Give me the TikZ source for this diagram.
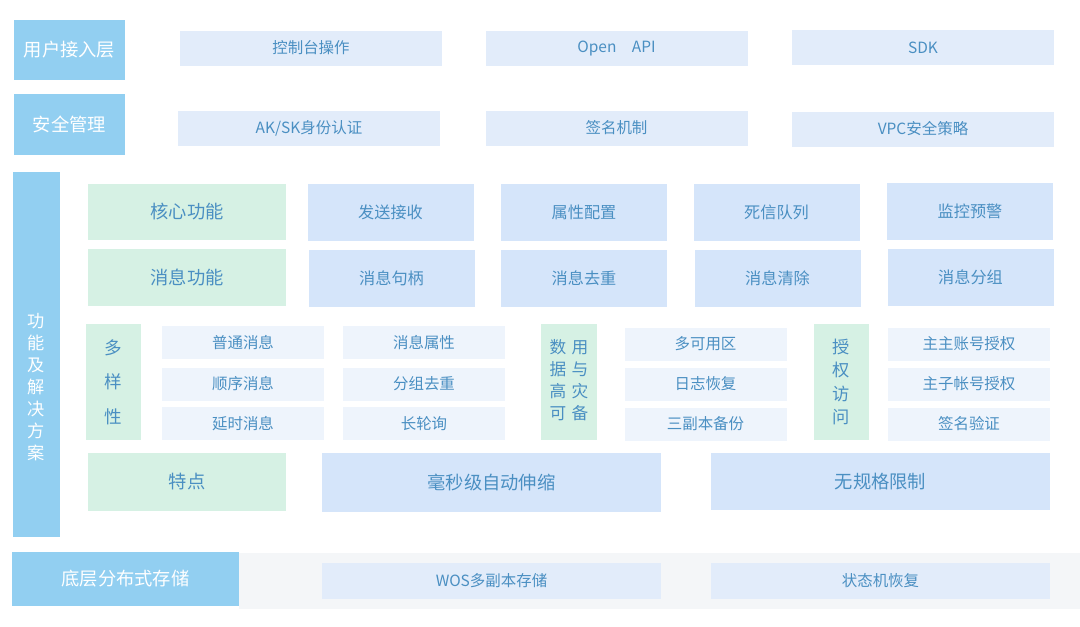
\documentclass[tikz,border=0pt]{standalone}
\usepackage{fontspec}
\newfontfamily\cjk{Noto Sans CJK SC}
\usepackage{xcolor}
\definecolor{layer-blue}{HTML}{92CFF1}
\definecolor{pale-green}{HTML}{D6F1E4}
\definecolor{core-blue}{HTML}{D5E5FA}
\definecolor{top-blue}{HTML}{E2ECFA}
\definecolor{sub-blue}{HTML}{EEF4FC}
\definecolor{band-grey}{HTML}{F4F6F8}
\definecolor{label-text}{HTML}{4A8FC2}

\begin{document}
\begin{tikzpicture}[
  every node/.style={inner sep=0pt, text=label-text, font=\cjk\fontsize{8.8}{10.5}\selectfont},
  layer/.style={fill=layer-blue, text=white, font=\cjk\fontsize{10.4}{12.5}\selectfont},
  feat/.style={fill=pale-green, font=\cjk\fontsize{10.4}{12.5}\selectfont},
  core/.style={fill=core-blue, minimum width=3.32cm, minimum height=1.13cm, font=\cjk\fontsize{9.2}{11}\selectfont},
  entry/.style={fill=top-blue, minimum width=5.24cm, minimum height=0.70cm},
  item/.style={fill=sub-blue, minimum width=3.24cm, minimum height=0.66cm},
  wide/.style={minimum width=6.78cm}
]
  \useasboundingbox (0,0) rectangle (21.6,-12.52);
  \fill[white] (0,0) rectangle (21.6,-12.52);

  \node[layer, minimum width=2.22cm, minimum height=1.20cm] (access) at (1.39,-1.00) {用户接入层};
  \node[layer, minimum width=2.22cm, minimum height=1.22cm] (security) at (1.39,-2.49) {安全管理};
  \node[layer, minimum width=0.94cm, minimum height=7.30cm] (solution) at (0.73,-7.09) {};
  \node[text=white, align=center, font=\cjk\fontsize{9.8}{12.5}\selectfont] (solution-text) at (0.73,-7.74) {功\\能\\及\\解\\决\\方\\案};

  \node[entry] (console) at (6.22,-0.96) {控制台操作};
  \node[entry] (openapi) at (12.33,-0.96) {Open\quad API};
  \node[entry] (sdk) at (18.46,-0.95) {SDK};
  \node[entry] (aksk) at (6.18,-2.56) {AK/SK身份认证};
  \node[entry] (signing) at (12.33,-2.56) {签名机制};
  \node[entry] (vpc) at (18.46,-2.58) {VPC安全策略};

  \node[feat, minimum width=3.96cm, minimum height=1.12cm] (core-fn) at (3.74,-4.24) {核心功能};
  \node[feat, minimum width=3.96cm, minimum height=1.14cm] (msg-fn) at (3.74,-5.55) {消息功能};
  \node[core] (send) at (7.81,-4.25) {发送接收};
  \node[core] (attr) at (11.68,-4.25) {属性配置};
  \node[core] (dlq) at (15.53,-4.25) {死信队列};
  \node[core] (monitor) at (19.40,-4.23) {监控预警};
  \node[core] (handle) at (7.83,-5.57) {消息句柄};
  \node[core] (dedup) at (11.68,-5.57) {消息去重};
  \node[core] (purge) at (15.55,-5.57) {消息清除};
  \node[core] (group) at (19.41,-5.55) {消息分组};

  \node[feat, minimum width=1.10cm, minimum height=2.32cm, align=center, font=\cjk\fontsize{10}{19.6}\selectfont] (variety) at (2.27,-7.64) {多\\样\\性};
  \node[item] (normal) at (4.86,-6.85) {普通消息};
  \node[item] (ordered) at (4.86,-7.68) {顺序消息};
  \node[item] (delayed) at (4.86,-8.47) {延时消息};
  \node[item] (props) at (8.48,-6.85) {消息属性};
  \node[item] (group-dedup) at (8.48,-7.68) {分组去重};
  \node[item] (polling) at (8.48,-8.47) {长轮询};

  \node[feat, minimum width=1.12cm, minimum height=2.32cm, font=\cjk\fontsize{9.5}{12.5}\selectfont] (ha) at (11.38,-7.64)
    {\begin{tabular}{@{}c@{\hspace{3pt}}c@{}}数&用\\据&与\\高&灾\\可&备\end{tabular}};
  \node[item] (zones) at (14.11,-6.88) {多可用区};
  \node[item] (log) at (14.11,-7.68) {日志恢复};
  \node[item] (replica) at (14.11,-8.48) {三副本备份};

  \node[feat, minimum width=1.10cm, minimum height=2.32cm, align=center, font=\cjk\fontsize{9.8}{13.4}\selectfont] (auth) at (16.83,-7.64) {授\\权\\访\\问};
  \node[item] (main-acct) at (19.38,-6.88) {主主账号授权};
  \node[item] (sub-acct) at (19.38,-7.68) {主子帐号授权};
  \node[item] (verify) at (19.38,-8.48) {签名验证};

  \node[feat, minimum width=3.96cm, minimum height=1.16cm] (traits) at (3.74,-9.64) {特点};
  \node[core, wide, minimum height=1.18cm, font=\cjk\fontsize{10.4}{12.5}\selectfont] (scaling) at (9.83,-9.65) {毫秒级自动伸缩};
  \node[core, wide, minimum height=1.14cm, font=\cjk\fontsize{10.4}{12.5}\selectfont] (nolimit) at (17.61,-9.63) {无规格限制};

  \fill[band-grey] (4.78,-11.06) rectangle (21.6,-12.18);
  \node[layer, minimum width=4.54cm, minimum height=1.08cm] (storage) at (2.51,-11.58) {底层分布式存储};
  \node[entry, wide, minimum height=0.72cm] (wos) at (9.83,-11.62) {WOS多副本存储};
  \node[entry, wide, minimum height=0.72cm] (fsm) at (17.61,-11.62) {状态机恢复};
\end{tikzpicture}
\end{document}
